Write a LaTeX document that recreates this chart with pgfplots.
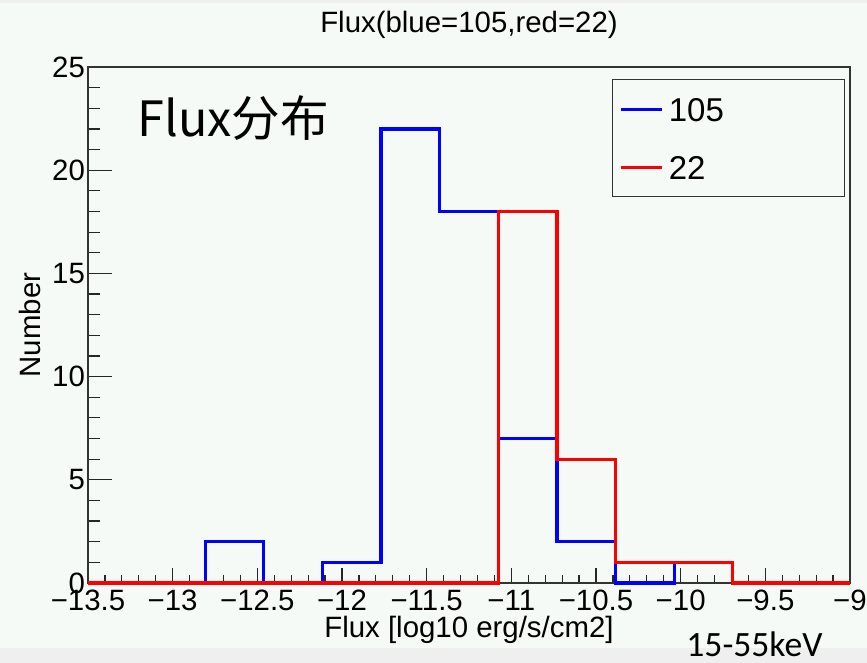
\documentclass[border=0pt]{standalone}
\usepackage{pgfplots}
\usepackage{pgfplotstable}
\pgfplotsset{compat=1.18}
\usepackage{fontspec}
\setmainfont{Liberation Sans}
\newfontfamily\cjkfont{Noto Sans CJK SC}
\newfontfamily\calfont{Carlito}

\definecolor{canvasbg}{HTML}{F6FAF7}
\definecolor{bandgray}{HTML}{EFEFEF}
\definecolor{rootblue}{RGB}{0,0,255}
\definecolor{rootred}{RGB}{255,0,0}

% 13 equal bins from -13.5 to -9; each row holds the lower bin edge and the counts
\pgfplotstableread{
edge     blue red
-13.5000 0    0
-13.1538 0    0
-12.8077 2    0
-12.4615 0    0
-12.1154 1    0
-11.7692 22   0
-11.4231 18   0
-11.0769 7    18
-10.7308 2    6
-10.3846 0    1
-10.0385 1    1
-9.6923  0    0
-9.3462  0    0
-9.0000  0    0
}\fluxhist

\newcommand{\lblfont}{\fontsize{14.7}{17}\selectfont}

\begin{document}
\begin{tikzpicture}
\useasboundingbox (0,0) rectangle (433.5pt,331.5pt);
\fill[canvasbg] (0,0) rectangle (433.5pt,331.5pt);
\fill[bandgray] (0,0) rectangle (433.5pt,7.5pt);
\fill[bandgray] (0,330pt) rectangle (433.5pt,331.5pt);

% y ticks (longer ticks than on the x axis)
\begin{axis}[
  at={(44pt,40pt)}, anchor=south west,
  scale only axis, width=381pt, height=258pt,
  xmin=-13.5, xmax=-9, ymin=0, ymax=25,
  axis line style={black!80, line width=0.6pt},
  tick align=inside, ytick pos=left,
  xtick=\empty,
  ytick={0,5,10,15,20,25},
  minor y tick num=4,
  major tick length=12pt, minor tick length=6pt,
  tick style={black!85, line width=0.6pt},
  /pgf/number format/assume math mode=true,
  yticklabel style={font=\lblfont, xshift=2pt},
]
\end{axis}

% histograms, x ticks, labels and legend
\begin{axis}[
  at={(44pt,40pt)}, anchor=south west,
  scale only axis, width=381pt, height=258pt,
  xmin=-13.5, xmax=-9, ymin=0, ymax=25,
  clip=false,
  axis line style={black!80, line width=0.6pt},
  tick align=inside, xtick pos=bottom,
  ytick=\empty,
  xtick={-13.5,-13,-12.5,-12,-11.5,-11,-10.5,-10,-9.5,-9},
  xticklabels={−13.5,−13,−12.5,−12,−11.5,−11,−10.5,−10,−9.5,−9},
  minor x tick num=4,
  major tick length=7.5pt, minor tick length=4pt,
  tick style={black!85, line width=0.6pt},
  xticklabel style={font=\lblfont},
  title={Flux(blue=105,red=22)},
  title style={at={([yshift=15pt]axis description cs:0.5,1)}, anchor=center, font=\lblfont},
  xlabel={Flux [log10 erg/s/cm2]},
  xlabel style={at={([yshift=-23.5pt]axis description cs:0.5,0)}, anchor=center, font=\lblfont},
  ylabel={Number},
  ylabel style={at={([xshift=-29pt]axis description cs:0,0.5)}, anchor=center, font=\lblfont},
  legend style={at={(0.6877,0.9767)}, anchor=north west,
    draw=black!80, line width=0.6pt, fill=none,
    inner xsep=3.5pt, inner ysep=0.25pt, row sep=0pt, column sep=2.5pt,
    font=\fontsize{16.5}{18}\selectfont,
    nodes={inner sep=0pt, text height=20.9pt, text depth=8.1pt, text width=84.5pt}},
  legend cell align=left,
  legend image code/.code={\draw[#1, line width=1.6pt] (0pt,0pt) -- (20.5pt,0pt);},
]
\addplot[const plot, rootblue, line width=1.6pt, line join=miter]
  table[x=edge, y=blue] {\fluxhist};
\addlegendentry{105}
\addplot[const plot, rootred, line width=1.6pt, line join=miter]
  table[x=edge, y=red] {\fluxhist};
\addlegendentry{22}
\end{axis}

\node[anchor=base west, inner sep=0pt, font=\cjkfont\fontsize{24.3}{28}\selectfont]
  at (68.5pt,263pt) {Flux分布};
\node[anchor=base west, inner sep=0pt, font=\calfont\fontsize{17.8}{20}\selectfont]
  at (343pt,3pt) {15-55keV};
\end{tikzpicture}
\end{document}
